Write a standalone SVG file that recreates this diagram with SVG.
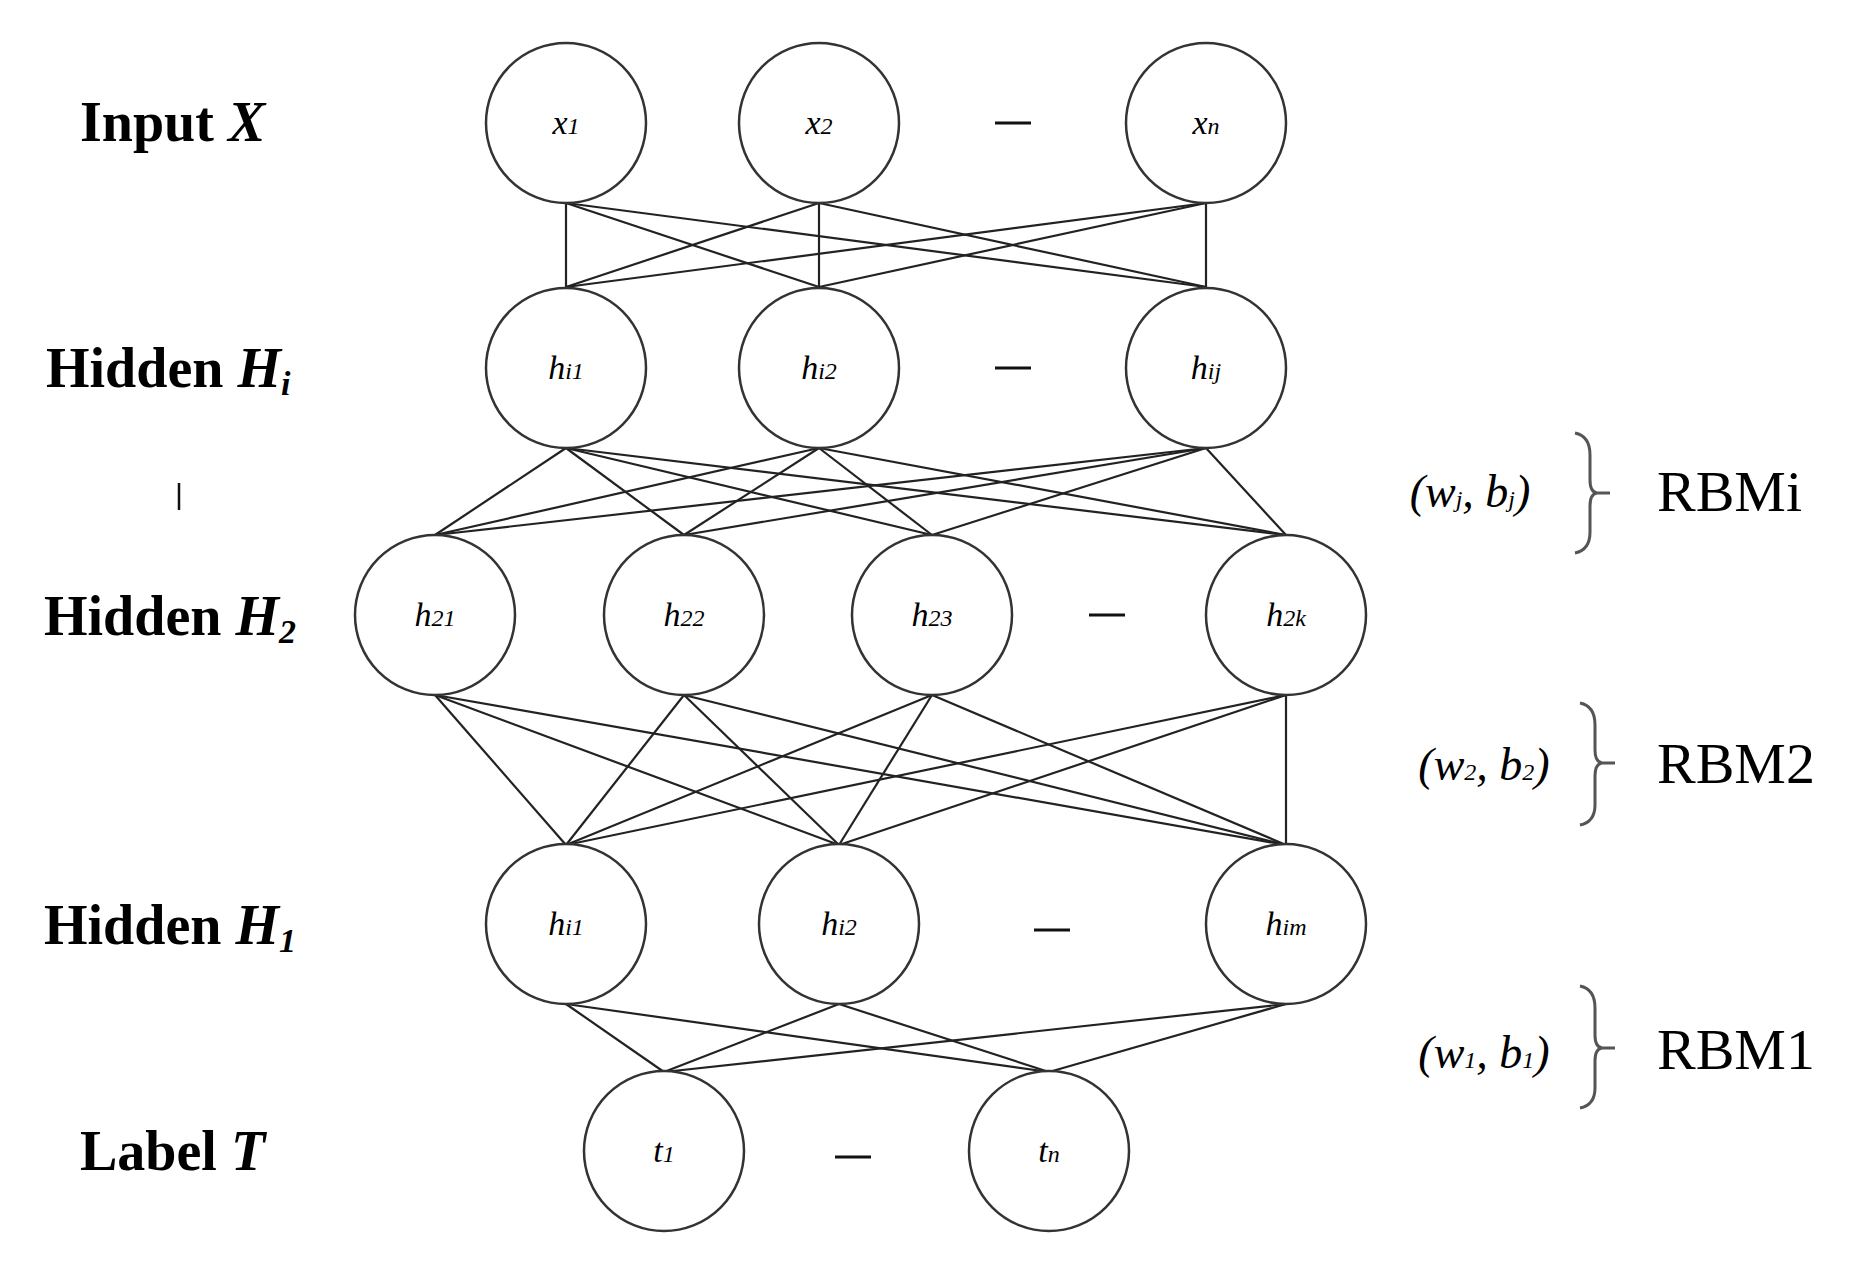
<svg xmlns="http://www.w3.org/2000/svg" width="1864" height="1262" viewBox="0 0 1864 1262">
<style>
.n{fill:#fff;stroke:#333;stroke-width:2.5}
.e line{stroke:#222;stroke-width:2.2}
.lbl{font-family:"Liberation Serif",serif;font-weight:bold;font-size:56px}
.nl{font-family:"Liberation Serif",serif;font-style:italic;font-size:34px;text-anchor:middle}
.d{stroke:#111;stroke-width:3}
.w{font-family:"Liberation Serif",serif;font-style:italic;font-size:46px;text-anchor:middle}
.r{font-family:"Liberation Serif",serif;font-size:58px}
.br{fill:none;stroke:#555;stroke-width:3}
.s{font-size:24px}
.ls{font-size:34px}
</style>
<rect width="1864" height="1262" fill="#fff"/>
<g class="e">
<line x1="566" y1="203" x2="566" y2="287"/><line x1="566" y1="203" x2="819" y2="287"/><line x1="566" y1="203" x2="1206" y2="287"/>
<line x1="819" y1="203" x2="566" y2="287"/><line x1="819" y1="203" x2="819" y2="287"/><line x1="819" y1="203" x2="1206" y2="287"/>
<line x1="1206" y1="203" x2="566" y2="287"/><line x1="1206" y1="203" x2="819" y2="287"/><line x1="1206" y1="203" x2="1206" y2="287"/>
<line x1="566" y1="448" x2="435" y2="535"/><line x1="566" y1="448" x2="684" y2="535"/><line x1="566" y1="448" x2="932" y2="535"/><line x1="566" y1="448" x2="1286" y2="535"/>
<line x1="819" y1="448" x2="435" y2="535"/><line x1="819" y1="448" x2="684" y2="535"/><line x1="819" y1="448" x2="932" y2="535"/><line x1="819" y1="448" x2="1286" y2="535"/>
<line x1="1206" y1="448" x2="435" y2="535"/><line x1="1206" y1="448" x2="684" y2="535"/><line x1="1206" y1="448" x2="932" y2="535"/><line x1="1206" y1="448" x2="1286" y2="535"/>
<line x1="435" y1="695" x2="566" y2="845"/><line x1="435" y1="695" x2="839" y2="845"/><line x1="435" y1="695" x2="1286" y2="845"/>
<line x1="684" y1="695" x2="566" y2="845"/><line x1="684" y1="695" x2="839" y2="845"/><line x1="684" y1="695" x2="1286" y2="845"/>
<line x1="932" y1="695" x2="566" y2="845"/><line x1="932" y1="695" x2="839" y2="845"/><line x1="932" y1="695" x2="1286" y2="845"/>
<line x1="1286" y1="695" x2="566" y2="845"/><line x1="1286" y1="695" x2="839" y2="845"/><line x1="1286" y1="695" x2="1286" y2="845"/>
<line x1="566" y1="1004" x2="664" y2="1072"/><line x1="566" y1="1004" x2="1049" y2="1072"/>
<line x1="839" y1="1004" x2="664" y2="1072"/><line x1="839" y1="1004" x2="1049" y2="1072"/>
<line x1="1286" y1="1004" x2="664" y2="1072"/><line x1="1286" y1="1004" x2="1049" y2="1072"/>
</g>
<g id="x1"><ellipse class="n" cx="566" cy="123" rx="80" ry="80"/><text class="nl" x="566" y="134">x<tspan class="s">1</tspan></text></g>
<g id="x2"><ellipse class="n" cx="819" cy="123" rx="80" ry="80"/><text class="nl" x="819" y="134">x<tspan class="s">2</tspan></text></g>
<g id="xn"><ellipse class="n" cx="1206" cy="123" rx="80" ry="80"/><text class="nl" x="1206" y="134">x<tspan class="s">n</tspan></text></g>
<g id="hi1"><ellipse class="n" cx="566" cy="368" rx="80" ry="80"/><text class="nl" x="566" y="379">h<tspan class="s">i1</tspan></text></g>
<g id="hi2"><ellipse class="n" cx="819" cy="368" rx="80" ry="80"/><text class="nl" x="819" y="379">h<tspan class="s">i2</tspan></text></g>
<g id="hij"><ellipse class="n" cx="1206" cy="368" rx="80" ry="80"/><text class="nl" x="1206" y="379">h<tspan class="s">ij</tspan></text></g>
<g id="h21"><ellipse class="n" cx="435" cy="615" rx="80" ry="80"/><text class="nl" x="435" y="626">h<tspan class="s">21</tspan></text></g>
<g id="h22"><ellipse class="n" cx="684" cy="615" rx="80" ry="80"/><text class="nl" x="684" y="626">h<tspan class="s">22</tspan></text></g>
<g id="h23"><ellipse class="n" cx="932" cy="615" rx="80" ry="80"/><text class="nl" x="932" y="626">h<tspan class="s">23</tspan></text></g>
<g id="h2k"><ellipse class="n" cx="1286" cy="615" rx="80" ry="80"/><text class="nl" x="1286" y="626">h<tspan class="s">2k</tspan></text></g>
<g id="h11"><ellipse class="n" cx="566" cy="924" rx="80" ry="80"/><text class="nl" x="566" y="935">h<tspan class="s">i1</tspan></text></g>
<g id="h12"><ellipse class="n" cx="839" cy="924" rx="80" ry="80"/><text class="nl" x="839" y="935">h<tspan class="s">i2</tspan></text></g>
<g id="h1m"><ellipse class="n" cx="1286" cy="924" rx="80" ry="80"/><text class="nl" x="1286" y="935">h<tspan class="s">im</tspan></text></g>
<g id="t1"><ellipse class="n" cx="664" cy="1151" rx="80" ry="80"/><text class="nl" x="664" y="1162">t<tspan class="s">1</tspan></text></g>
<g id="tn"><ellipse class="n" cx="1049" cy="1151" rx="80" ry="80"/><text class="nl" x="1049" y="1162">t<tspan class="s">n</tspan></text></g>
<g id="dashes">
<line class="d" x1="995" y1="123" x2="1031" y2="123"/><line class="d" x1="995" y1="368" x2="1031" y2="368"/>
<line class="d" x1="1089" y1="615" x2="1125" y2="615"/><line class="d" x1="1034" y1="930" x2="1070" y2="930"/>
<line class="d" x1="835" y1="1157" x2="871" y2="1157"/>
<line stroke="#111" stroke-width="2.5" x1="179" y1="483" x2="179" y2="510"/>
</g>
<g id="labels">
<text class="lbl" x="80" y="141">Input <tspan font-style="italic">X</tspan></text>
<text class="lbl" x="46" y="387">Hidden <tspan font-style="italic">H</tspan><tspan class="ls" font-style="italic" dy="8">i</tspan></text>
<text class="lbl" x="44" y="635">Hidden <tspan font-style="italic">H</tspan><tspan class="ls" font-style="italic" dy="8">2</tspan></text>
<text class="lbl" x="44" y="944">Hidden <tspan font-style="italic">H</tspan><tspan class="ls" font-style="italic" dy="8">1</tspan></text>
<text class="lbl" x="80" y="1170">Label <tspan font-style="italic">T</tspan></text>
</g>
<g id="rbm">
<text class="w" x="1470" y="507">(w<tspan class="s">j</tspan>, b<tspan class="s">j</tspan>)</text>
<path class="br" d="M1575,433 Q1590,436 1590,455 L1590,480 Q1590,492 1597,493 Q1590,494 1590,506 L1590,532 Q1590,550 1575,553 M1597,493 L1610,493"/>
<text class="r" x="1657" y="511">RBMi</text>
<text class="w" x="1484" y="780">(w<tspan class="s">2</tspan>, b<tspan class="s">2</tspan>)</text>
<path class="br" d="M1580,703 Q1595,706 1595,725 L1595,750 Q1595,762 1602,763 Q1595,764 1595,776 L1595,805 Q1595,822 1580,825 M1602,763 L1615,763"/>
<text class="r" x="1657" y="783">RBM2</text>
<text class="w" x="1484" y="1068">(w<tspan class="s">1</tspan>, b<tspan class="s">1</tspan>)</text>
<path class="br" d="M1580,986 Q1595,989 1595,1008 L1595,1035 Q1595,1047 1602,1048 Q1595,1049 1595,1061 L1595,1088 Q1595,1105 1580,1108 M1602,1048 L1615,1048"/>
<text class="r" x="1657" y="1069">RBM1</text>
</g>
</svg>
